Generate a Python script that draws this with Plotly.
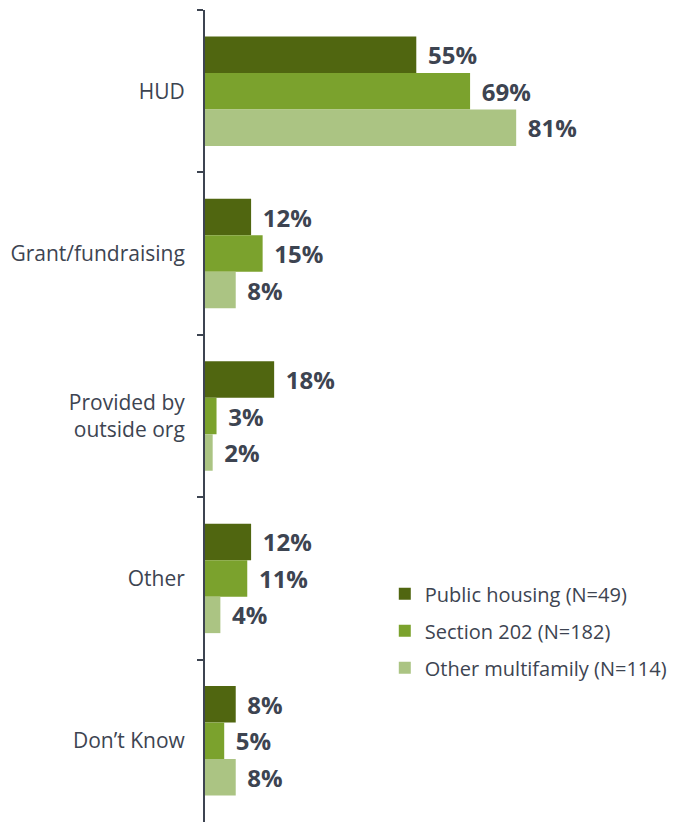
import plotly.graph_objects as go

categories = ["HUD", "Grant/fundraising", "Provided by<br>outside org", "Other", "Don’t Know"]
public_housing = [55, 12, 18, 12, 8]
section_202 = [69, 15, 3, 11, 5]
other_multifamily = [81, 8, 2, 4, 8]
series_names = ["Public housing (N=49)", "Section 202 (N=182)", "Other multifamily (N=114)"]
colors = ["#506610", "#7ba22d", "#abc483"]

TEXT = "#3d4451"
fig = go.Figure()
for name, vals, col in zip(series_names, [public_housing, section_202, other_multifamily], colors):
    fig.add_trace(go.Bar(
        y=categories, x=vals, name=name, orientation="h",
        marker=dict(color=col, line=dict(width=0)),
        text=[f"{v}%" for v in vals], textposition="outside",
        texttemplate=" \u200a%{text}",
        textfont=dict(family="Open Sans", size=24, color=TEXT, weight="bold"),
        cliponaxis=False, legendgroup=name,
    ))

fig.update_layout(
    barmode="group", bargap=0.326, bargroupgap=0,
    width=674, height=816,
    margin=dict(l=197, r=16, t=2, b=2, autoexpand=False),
    plot_bgcolor="white", paper_bgcolor="white",
    font=dict(family="Open Sans", color=TEXT),
    legend=dict(x=0.39, y=0.305, xanchor="left", yanchor="top",
                font=dict(size=20, color=TEXT), tracegroupgap=8,
                bgcolor="rgba(0,0,0,0)"),
    xaxis=dict(range=[0, 120], visible=False, showgrid=False, zeroline=False),
    yaxis=dict(autorange="reversed", showline=True, linecolor=TEXT, linewidth=2,
               ticks="outside", tickson="boundaries", ticklen=6, tickcolor=TEXT, tickwidth=2,
               tickfont=dict(size=21, color=TEXT), ticklabelstandoff=14,
               showgrid=False, zeroline=False, automargin=False),
)
fig.write_html("out.html")
